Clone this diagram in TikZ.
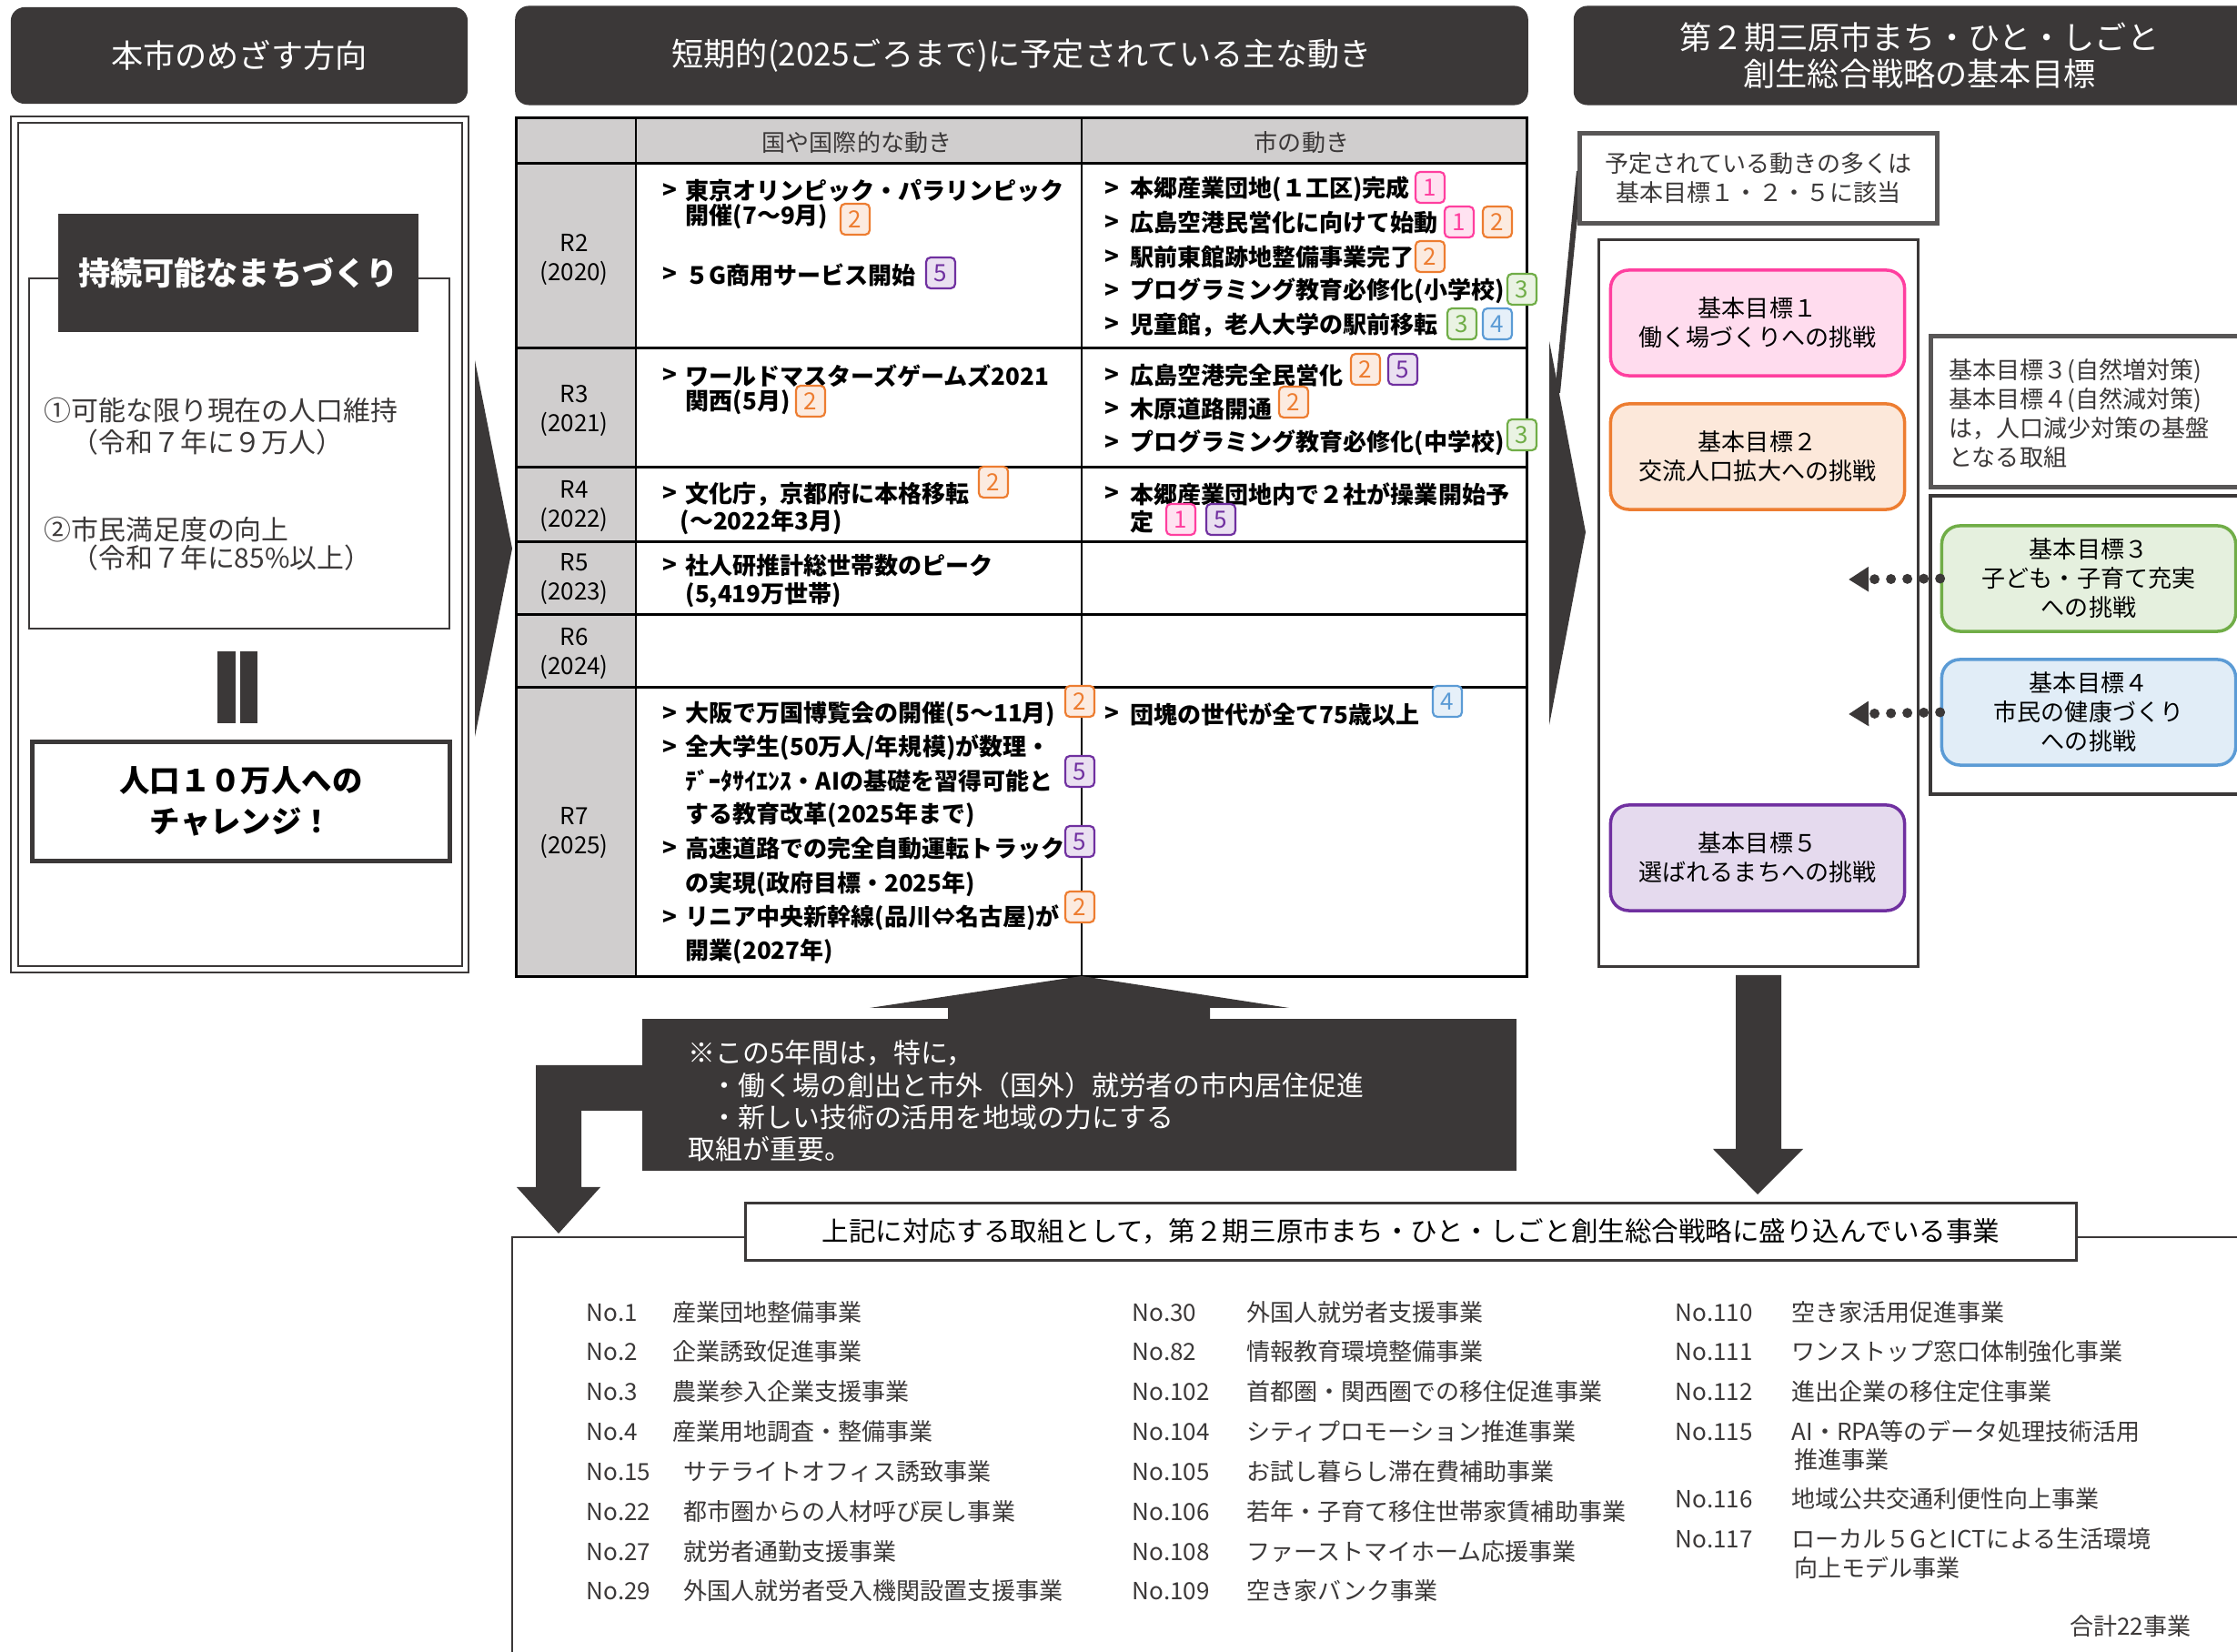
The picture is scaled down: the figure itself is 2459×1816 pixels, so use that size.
\documentclass[tikz,border=0pt]{standalone}
\usepackage{fontspec}
\setmainfont{Noto Sans CJK JP}
\usetikzlibrary{arrows.meta}
\definecolor{dk}{HTML}{3B3838}
\definecolor{gy}{HTML}{D0CECE}
\definecolor{pk}{HTML}{FF3F9F}
\definecolor{og}{HTML}{ED7D31}
\definecolor{gn}{HTML}{70AD47}
\definecolor{bl}{HTML}{5B9BD5}
\definecolor{pu}{HTML}{7030A0}
\newcommand{\fh}{\fontsize{10}{11.4}\selectfont}
\newcommand{\fn}{\fontsize{8.5}{10}\selectfont}
\newcommand{\ft}{\fontsize{7.4}{9.1}\selectfont}
\newcommand{\bd}[4]{\node[badge=#3] (#1) at (#2) {#4};}

\begin{document}
\begin{tikzpicture}[x=0.01cm,y=-0.01cm,
  hdr/.style={fill=dk,text=white,rounded corners=0.15cm,font=\fh,align=center,inner sep=0pt},
  tl/.style={anchor=west,inner sep=0pt,font=\ft\bfseries},
  mk/.style={inner sep=0pt,font=\ft\bfseries},
  yr/.style={align=center,inner sep=0pt,font=\ft},
  badge/.style={draw=#1,fill=#1!15,text=#1,line width=0.022cm,rounded corners=0.05cm,
    minimum width=0.32cm,minimum height=0.34cm,inner sep=0pt,font=\ft},
  goal/.style={draw=#1,fill=#1!18,text=black,line width=0.035cm,rounded corners=0.2cm,
    minimum width=3.23cm,minimum height=1.16cm,align=center,inner sep=0pt,font=\ft},
  lt/.style={anchor=west,inner sep=0pt,font=\fn,text=dk},
  nt/.style={anchor=west,inner sep=0pt,font=\fn,text=white},
  lst/.style={anchor=west,inner sep=0pt,font=\ft,text=dk},
  dotarr/.style={dk,line width=0.11cm,line cap=round,dash pattern=on 0pt off 0.18cm,
    -{Triangle[length=0.22cm,width=0.26cm]}},
  ]
  \useasboundingbox (0,0) rectangle (2459,1816);

  % headers
  \node[hdr,minimum width=5.02cm,minimum height=1.06cm] (h1) at (263,61) {本市のめざす方向};
  \node[hdr,minimum width=11.13cm,minimum height=1.09cm] (h2) at (1123,61)
    {短期的(2025ごろまで)に予定されている主な動き};
  \node[hdr,minimum width=7.6cm,minimum height=1.09cm] (h3) at (2110,61)
    {第２期三原市まち・ひと・しごと\\創生総合戦略の基本目標};

  % left column
  \draw[dk,double,double distance=0.05cm,line width=0.02cm] (16,132) rectangle (511,1066);
  \draw[dk,line width=0.025cm] (32,306) rectangle (494,691);
  \node[fill=dk,text=white,minimum width=3.95cm,minimum height=1.29cm,inner sep=0pt,
    font=\fh\bfseries] (st) at (262,300) {持続可能なまちづくり};
  \node[lt] (l1) at (48,451) {①可能な限り現在の人口維持};
  \node[lt] (l2) at (48,486) {　（令和７年に９万人）};
  \node[lt] (l3) at (48,582) {②市民満足度の向上};
  \node[lt] (l4) at (48,613) {　（令和７年に85\%以上）};
  \fill[dk] (239,716) rectangle (259,795);
  \fill[dk] (264,716) rectangle (283,795);
  \node[draw=dk,line width=0.05cm,minimum width=4.59cm,minimum height=1.31cm,align=center,
    inner sep=0pt,font=\fontsize{9.5}{12.8}\selectfont\bfseries] (ch) at (265,881)
    {人口１０万人への\\チャレンジ！};

  % chevrons
  \fill[dk] (522,396) -- (563,603) -- (522,810) -- cycle;
  \fill[dk] (1703,375) -- (1743,585) -- (1703,797) -- cycle;
  \fill[dk] (1733,188) -- (1739,188) -- (1715,432) -- (1709,432) -- cycle;

  % table
  \fill[gy] (567,130) rectangle (1678,180);
  \fill[gy] (567,180) rectangle (699,1074);
  \foreach \y in {180,383,514,596,676,756}
    \draw[black,line width=0.03cm] (567,\y) -- (1678,\y);
  \draw[black,line width=0.02cm] (699,130) -- (699,1074);
  \draw[black,line width=0.02cm] (1189,130) -- (1189,1074);
  \draw[black,line width=0.03cm] (567,130) rectangle (1678,1074);
  \node[yr,text=dk] (th1) at (942,157) {国や国際的な動き};
  \node[yr,text=dk] (th2) at (1431,157) {市の動き};
  \node[yr] (yr2) at (631,286) {R2\\(2020)};
  \node[yr] (yr3) at (631,452) {R3\\(2021)};
  \node[yr] (yr4) at (631,557) {R4\\(2022)};
  \node[yr] (yr5) at (631,637) {R5\\(2023)};
  \node[yr] (yr6) at (631,719) {R6\\(2024)};
  \node[yr] (yr7) at (631,916) {R7\\(2025)};
  \foreach \y [count=\i] in {210,302,413,543,622,785,822,933,1009}
    \node[mk] (ma\i) at (736,\y) {>};
  \foreach \y [count=\i] in {208,245,283,320,357,413,450,487,543,785}
    \node[mk] (mb\i) at (1222,\y) {>};

  % national
  \node[tl] (na1) at (753,210) {東京オリンピック・パラリンピック};
  \node[tl] (na2) at (753,238) {開催(7～9月)};
  \node[tl] (na3) at (753,302) {５G商用サービス開始};
  \node[tl] (na4) at (753,413) {ワールドマスターズゲームズ2021};
  \node[tl] (na5) at (753,442) {関西(5月)};
  \node[tl] (na6) at (753,543) {文化庁，京都府に本格移転};
  \node[tl] (na7) at (747,574) {(～2022年3月)};
  \node[tl] (na8) at (753,622) {社人研推計総世帯数のピーク};
  \node[tl] (na9) at (753,654) {(5,419万世帯)};
  \node[tl] (na10) at (753,785) {大阪で万国博覧会の開催(5～11月)};
  \node[tl] (na11) at (753,822) {全大学生(50万人/年規模)が数理・};
  \node[tl] (na12) at (753,859) {ﾃﾞｰﾀｻｲｴﾝｽ・AIの基礎を習得可能と};
  \node[tl] (na13) at (753,896) {する教育改革(2025年まで)};
  \node[tl] (na14) at (753,933) {高速道路での完全自動運転トラック};
  \node[tl] (na15) at (753,972) {の実現(政府目標・2025年)};
  \node[tl] (na16) at (753,1009) {リニア中央新幹線(品川⇔名古屋)が};
  \node[tl] (na17) at (753,1046) {開業(2027年)};
  \bd{ba1}{940,241}{og}{2}
  \bd{ba2}{1034,300}{pu}{5}
  \bd{ba3}{891,441}{og}{2}
  \bd{ba4}{1092,530}{og}{2}
  \bd{ba5}{1187,771}{og}{2}
  \bd{ba6}{1187,848}{pu}{5}
  \bd{ba7}{1187,925}{pu}{5}
  \bd{ba8}{1187,997}{og}{2}

  % city
  \node[tl] (nb1) at (1242,208) {本郷産業団地(１工区)完成};
  \node[tl] (nb2) at (1242,245) {広島空港民営化に向けて始動};
  \node[tl] (nb3) at (1242,283) {駅前東館跡地整備事業完了};
  \node[tl] (nb4) at (1242,320) {プログラミング教育必修化(小学校)};
  \node[tl] (nb5) at (1242,357) {児童館，老人大学の駅前移転};
  \node[tl] (nb6) at (1242,413) {広島空港完全民営化};
  \node[tl] (nb7) at (1242,450) {木原道路開通};
  \node[tl] (nb8) at (1242,487) {プログラミング教育必修化(中学校)};
  \node[tl] (nb9) at (1242,543) {本郷産業団地内で２社が操業開始予};
  \node[tl] (nb10) at (1242,574) {定};
  \node[tl] (nb11) at (1242,785) {団塊の世代が全て75歳以上};
  \bd{bb1}{1572,206}{pk}{1}
  \bd{bb2}{1604,244}{pk}{1}
  \bd{bb3}{1646,244}{og}{2}
  \bd{bb4}{1572,282}{og}{2}
  \bd{bb5}{1673,318}{gn}{3}
  \bd{bb6}{1607,356}{gn}{3}
  \bd{bb7}{1646,356}{bl}{4}
  \bd{bb8}{1501,406}{og}{2}
  \bd{bb9}{1542,406}{pu}{5}
  \bd{bb10}{1422,442}{og}{2}
  \bd{bb11}{1673,478}{gn}{3}
  \bd{bb12}{1298,571}{pk}{1}
  \bd{bb13}{1342,571}{pu}{5}
  \bd{bb14}{1591,771}{bl}{4}

  % right column
  \node[draw=dk!85,line width=0.05cm,minimum width=3.93cm,minimum height=0.98cm,align=center,
    inner sep=0pt,font=\ft,text=dk] (cl) at (1933,196)
    {予定されている動きの多くは\\基本目標１・２・５に該当};
  \draw[dk,line width=0.03cm] (1757,264) rectangle (2108,1063);
  \node[goal=pk] (g1) at (1932,355) {基本目標１\\働く場づくりへの挑戦};
  \node[goal=og] (g2) at (1932,502) {基本目標２\\交流人口拡大への挑戦};
  \node[goal=pu] (g5) at (1932,943) {基本目標５\\選ばれるまちへの挑戦};
  \draw[dk!85,line width=0.05cm] (2480,370) -- (2122,370) -- (2122,536) -- (2480,536);
  \node[anchor=west,align=left,inner sep=0pt,font=\ft,text=dk] (nr) at (2142,455)
    {基本目標３(自然増対策)\\基本目標４(自然減対策)\\は，人口減少対策の基盤\\となる取組};
  \draw[dk,line width=0.04cm] (2480,545) -- (2122,545) -- (2122,873) -- (2480,873);
  \node[goal=gn] (g3) at (2296,636) {基本目標３\\子ども・子育て充実\\への挑戦};
  \node[goal=bl] (g4) at (2296,783) {基本目標４\\市民の健康づくり\\への挑戦};
  \coordinate (d3) at (2032,637);
  \coordinate (d4) at (2032,785);
  \draw[dotarr] (g3.west) -- (d3);
  \draw[dotarr] (g4.west) -- (d4);
  \fill[dk] (1908,1072) -- (1958,1072) -- (1958,1263) -- (1982,1263) -- (1932,1313)
    -- (1883,1263) -- (1908,1263) -- cycle;

  % note box
  \fill[dk] (706,1120) rectangle (1667,1287);
  \fill[dk] (1042,1121) -- (1042,1108) -- (956,1108) -- (1189,1073) -- (1417,1108)
    -- (1330,1108) -- (1330,1121) -- cycle;
  \fill[dk] (707,1171) -- (589,1171) -- (589,1305) -- (568,1305) -- (614,1356)
    -- (660,1305) -- (639,1305) -- (639,1221) -- (707,1221) -- cycle;
  \node[nt] (t1) at (756,1157) {※この5年間は，特に，};
  \node[nt] (t2) at (781,1193) {・働く場の創出と市外（国外）就労者の市内居住促進};
  \node[nt] (t3) at (781,1228) {・新しい技術の活用を地域の力にする};
  \node[nt] (t4) at (756,1263) {取組が重要。};

  % projects
  \draw[dk,line width=0.025cm] (563,1830) -- (563,1360) -- (820,1360);
  \draw[dk,line width=0.025cm] (2283,1360) -- (2470,1360);
  \node[draw=dk,line width=0.03cm,minimum width=14.63cm,minimum height=0.62cm,inner sep=0pt,
    fill=white,font=\fontsize{8.4}{10}\selectfont] (ttl) at (1551,1354)
    {上記に対応する取組として，第２期三原市まち・ひと・しごと創生総合戦略に盛り込んでいる事業};
  \foreach \n/\x/\t/\y [count=\i] in {No.1/739/産業団地整備事業/1443,
    No.2/739/企業誘致促進事業/1486, No.3/739/農業参入企業支援事業/1530,
    No.4/739/産業用地調査・整備事業/1574, No.15/751/サテライトオフィス誘致事業/1618,
    No.22/751/都市圏からの人材呼び戻し事業/1662, No.27/751/就労者通勤支援事業/1706,
    No.29/751/外国人就労者受入機関設置支援事業/1749}
  {
    \node[lst] (pa\i) at (644,\y) {\n};
    \node[lst] (qa\i) at (\x,\y) {\t};
  }
  \foreach \n/\t/\y [count=\i] in {No.30/外国人就労者支援事業/1443,
    No.82/情報教育環境整備事業/1486, No.102/首都圏・関西圏での移住促進事業/1530,
    No.104/シティプロモーション推進事業/1574, No.105/お試し暮らし滞在費補助事業/1618,
    No.106/若年・子育て移住世帯家賃補助事業/1662, No.108/ファーストマイホーム応援事業/1706,
    No.109/空き家バンク事業/1749}
  {
    \node[lst] (pb\i) at (1244,\y) {\n};
    \node[lst] (qb\i) at (1370,\y) {\t};
  }
  \foreach \n/\t/\y [count=\i] in {No.110/空き家活用促進事業/1443,
    No.111/ワンストップ窓口体制強化事業/1486, No.112/進出企業の移住定住事業/1530,
    No.115/AI・RPA等のデータ処理技術活用/1574, No.116/地域公共交通利便性向上事業/1648,
    No.117/ローカル５GとICTによる生活環境/1692}
  {
    \node[lst] (pc\i) at (1841,\y) {\n};
    \node[lst] (qc\i) at (1969,\y) {\t};
  }
  \node[lst] (qc7) at (1972,1605) {推進事業};
  \node[lst] (qc8) at (1972,1723) {向上モデル事業};
  \node[lst,anchor=east] (sum) at (2409,1788) {合計22事業};
\end{tikzpicture}
\end{document}
